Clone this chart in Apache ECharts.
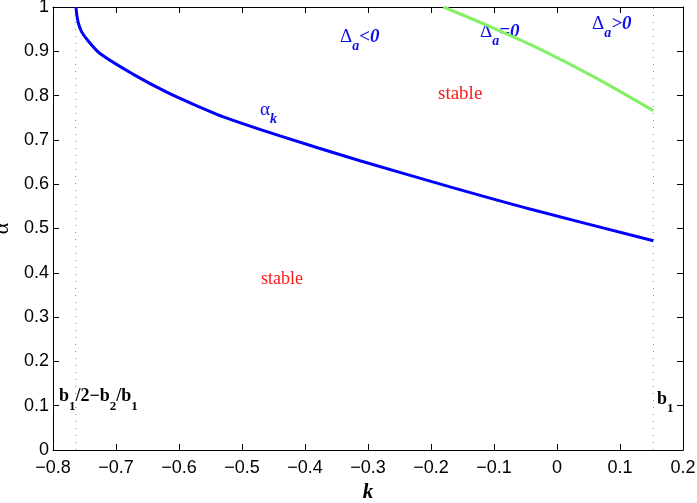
<!DOCTYPE html>
<html>
<head>
<meta charset="utf-8">
<script src="https://cdn.jsdelivr.net/npm/echarts@6/dist/echarts.min.js"></script>
<style>
html,body{margin:0;padding:0;background:#fff;}
#chart{width:697px;height:503px;}
</style>
</head>
<body>
<div id="chart"></div>
<script>
// ---- data ----
const alphaK_k     = [-0.7635, -0.7625, -0.7600, -0.755, -0.745, -0.7254, -0.6725, -0.6196, -0.5667, -0.5296, -0.4397, -0.3127, -0.1698, -0.043, 0.153];
const alphaK_alpha = [1.0, 0.985, 0.965, 0.945, 0.925, 0.895, 0.848, 0.808, 0.774, 0.752, 0.709, 0.653, 0.594, 0.544, 0.4725];
const deltaZero_k     = [-0.1804, -0.1, -0.027, 0.063, 0.153];
const deltaZero_alpha = [1.0, 0.952, 0.905, 0.839, 0.766];
const leftBound  = -0.764;  // b1/2 - b2/b1
const rightBound = 0.153;   // b1
const xRange = [-0.8, 0.2];
const yRange = [0, 1];
const tickStep = 0.1;

const zip = (a, b) => a.map((v, i) => [v, b[i]]);

const chart = echarts.init(document.getElementById('chart'), null, {renderer: 'canvas'});

const fmt = v => String(Math.round(v * 10) / 10).replace('-', '\u2212');

const axisCommon = {
  type: 'value',
  interval: tickStep,
  axisLine: {show: true, onZero: false, lineStyle: {color: '#000', width: 1}},
  axisTick: {show: true, inside: true, length: 6, lineStyle: {color: '#000', width: 1}},
  splitLine: {show: false}
};

// text layout helper (segments with sub-scripts), positioned by baseline
const measureCtx = document.createElement('canvas').getContext('2d');
function textRun(x, baseline, segs, color) {
  const els = [];
  let cx = x;
  segs.forEach(s => {
    measureCtx.font = s.font;
    const w = measureCtx.measureText(s.t).width;
    const fs = parseFloat(s.font.match(/(\d+(\.\d+)?)px/)[1]);
    els.push({
      type: 'text', x: cx, y: baseline + (s.dy || 0) - 0.3 * fs, silent: true,
      style: {text: s.t, font: s.font, fill: color, textAlign: 'left', textVerticalAlign: 'middle'}
    });
    cx += w;
  });
  return els;
}

const SERIF = '"Liberation Serif", "Times New Roman", serif';
const blueTxt = '#1010e8';
const big = 'italic bold 19px ' + SERIF;
const sub = 'italic bold 14px ' + SERIF;
const delta = '19px ' + SERIF;

let graphics = [];
graphics = graphics.concat(textRun(340, 43, [{t: '\u0394', font: delta}, {t: 'a', font: sub, dy: 8}, {t: '<0', font: big}], blueTxt));
graphics = graphics.concat(textRun(480, 38, [{t: '\u0394', font: delta}, {t: 'a', font: sub, dy: 8}, {t: '=0', font: big}], blueTxt));
graphics = graphics.concat(textRun(592, 29.5, [{t: '\u0394', font: delta}, {t: 'a', font: sub, dy: 8}, {t: '>0', font: big}], blueTxt));
graphics = graphics.concat(textRun(260, 116, [{t: '\u03b1', font: '19px ' + SERIF}, {t: 'k', font: sub, dy: 8}], blueTxt));
graphics = graphics.concat(textRun(438, 100, [{t: 'stable', font: '19px ' + SERIF}], '#ff1a1a'));
graphics = graphics.concat(textRun(261, 285, [{t: 'stable', font: '18px ' + SERIF}], '#ff1a1a'));
const bB = 'bold 18px ' + SERIF, bS = 'bold 13px ' + SERIF;
graphics = graphics.concat(textRun(59, 402, [
  {t: 'b', font: bB}, {t: '1', font: bS, dy: 9}, {t: '/2\u2212b', font: bB}, {t: '2', font: bS, dy: 9},
  {t: '/b', font: bB}, {t: '1', font: bS, dy: 9}], '#000'));
graphics = graphics.concat(textRun(657, 405, [{t: 'b', font: bB}, {t: '1', font: bS, dy: 8}], '#000'));

const option = {
  animation: false,
  backgroundColor: '#fff',
  grid: {left: 53, right: 14, top: 7, bottom: 53, containLabel: false, outerBoundsMode: 'none'},
  xAxis: [
    Object.assign({}, axisCommon, {
      position: 'bottom', min: xRange[0], max: xRange[1],
      axisLabel: {formatter: fmt, color: '#000', fontFamily: '"Liberation Sans", Arial, sans-serif', fontSize: 18, margin: 9},
      name: 'k', nameLocation: 'middle', nameGap: 31,
      nameTextStyle: {fontFamily: SERIF, fontStyle: 'italic', fontWeight: 'bold', fontSize: 21, color: '#000'}
    }),
    Object.assign({}, axisCommon, {
      position: 'top', min: xRange[0], max: xRange[1], axisLabel: {show: false}
    })
  ],
  yAxis: [
    Object.assign({}, axisCommon, {
      position: 'left', min: yRange[0], max: yRange[1],
      axisLabel: {formatter: fmt, color: '#000', fontFamily: '"Liberation Sans", Arial, sans-serif', fontSize: 18, margin: 4},
      name: '\u03b1', nameLocation: 'middle', nameGap: 29,
      nameTextStyle: {fontFamily: SERIF, fontSize: 22, color: '#000'}
    }),
    Object.assign({}, axisCommon, {
      position: 'right', min: yRange[0], max: yRange[1], axisLabel: {show: false}
    })
  ],
  series: [
    {
      type: 'line', name: 'left bound', data: [[leftBound, yRange[0]], [leftBound, yRange[1]]],
      symbol: 'none', lineStyle: {color: '#4fb04f', width: 1, type: [1, 6]}, silent: true
    },
    {
      type: 'line', name: 'right bound', data: [[rightBound, yRange[0]], [rightBound, yRange[1]]],
      symbol: 'none', lineStyle: {color: '#4fb04f', width: 1, type: [1, 6]}, silent: true
    },
    {
      type: 'line', name: 'alpha_k', data: zip(alphaK_k, alphaK_alpha),
      symbol: 'none', smooth: 0.3,
      lineStyle: {color: '#0000ff', width: 3}
    },
    {
      type: 'line', name: 'Delta_a=0', data: zip(deltaZero_k, deltaZero_alpha),
      symbol: 'none', smooth: 0.3,
      lineStyle: {color: '#84f066', width: 3}
    }
  ],
  graphic: graphics
};
chart.setOption(option);
</script>
</body>
</html>
